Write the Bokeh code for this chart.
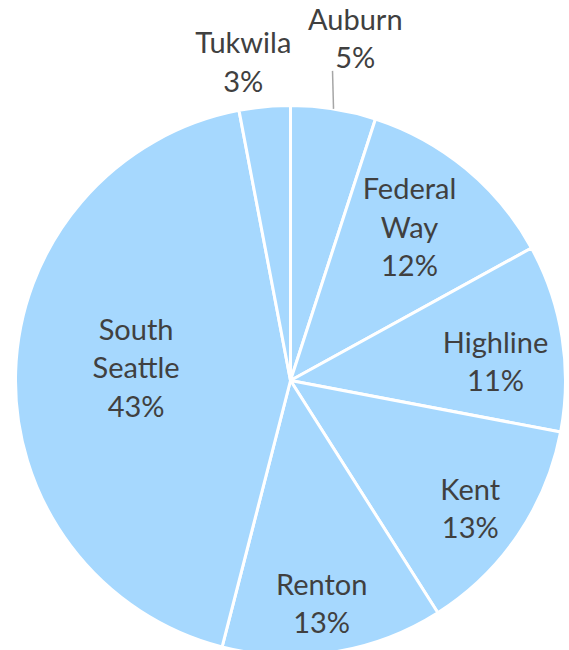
import math
from bokeh.plotting import figure
from bokeh.models import Range1d, ColumnDataSource
from bokeh.core.properties import value
from bokeh.embed import file_html
from bokeh.resources import INLINE

# ---- data ----
regions = ["Auburn", "Federal Way", "Highline", "Kent", "Renton", "South Seattle", "Tukwila"]
shares = [5, 12, 11, 13, 13, 43, 3]
label_lines = ["Auburn", "Federal\nWay", "Highline", "Kent", "Renton", "South\nSeattle", "Tukwila"]

# ---- layout (pixels, y up) ----
W, H = 569, 650
CX, CY, R = 290, 270, 275
label_dist = [349, 195, 206, 220, 224, 155, 323]
label_nudge_deg = [1.7, -2.0, 3.4, 1.0, 1.0, 3.2, -3.0]

total = float(sum(shares))
starts, ends, lx, ly, texts = [], [], [], [], []
cum = 0.0
for i, v in enumerate(shares):
    a0 = math.pi / 2 - 2 * math.pi * cum / total
    cum += v
    a1 = math.pi / 2 - 2 * math.pi * cum / total
    starts.append(a0)
    ends.append(a1)
    mid = (a0 + a1) / 2 - math.radians(label_nudge_deg[i])
    lx.append(CX + label_dist[i] * math.cos(mid))
    ly.append(CY + label_dist[i] * math.sin(mid))
    texts.append(f"{label_lines[i]}\n{v}%")

src = ColumnDataSource(dict(start=starts, end=ends, name=regions))
lab = ColumnDataSource(dict(x=lx, y=ly, t=texts))

p = figure(width=W, height=H, output_backend="svg", toolbar_location=None,
           x_range=Range1d(0, W), y_range=Range1d(0, H), min_border=0)
p.axis.visible = False
p.grid.visible = False
p.outline_line_color = None
p.background_fill_color = "white"

p.wedge(x=CX, y=CY, radius=R, start_angle="start", end_angle="end", direction="clock",
        fill_color="#A6D8FE", line_color="white", line_width=3, source=src)

# leader line for Auburn
a_mid = (starts[0] + ends[0]) / 2
ex, ey = CX + R * math.cos(a_mid), CY + R * math.sin(a_mid)
p.segment(x0=[ex], y0=[ey], x1=[ex - 1], y1=[ey + 38], line_color="#A6A6A6", line_width=1.5)

p.text(x="x", y="y", text="t", source=lab, text_font=value("Lato"), text_font_size="29px",
       text_color="#404040", text_align="center", text_baseline="middle",
       text_line_height=1.1)

open("out.html", "w").write(file_html(p, INLINE))
